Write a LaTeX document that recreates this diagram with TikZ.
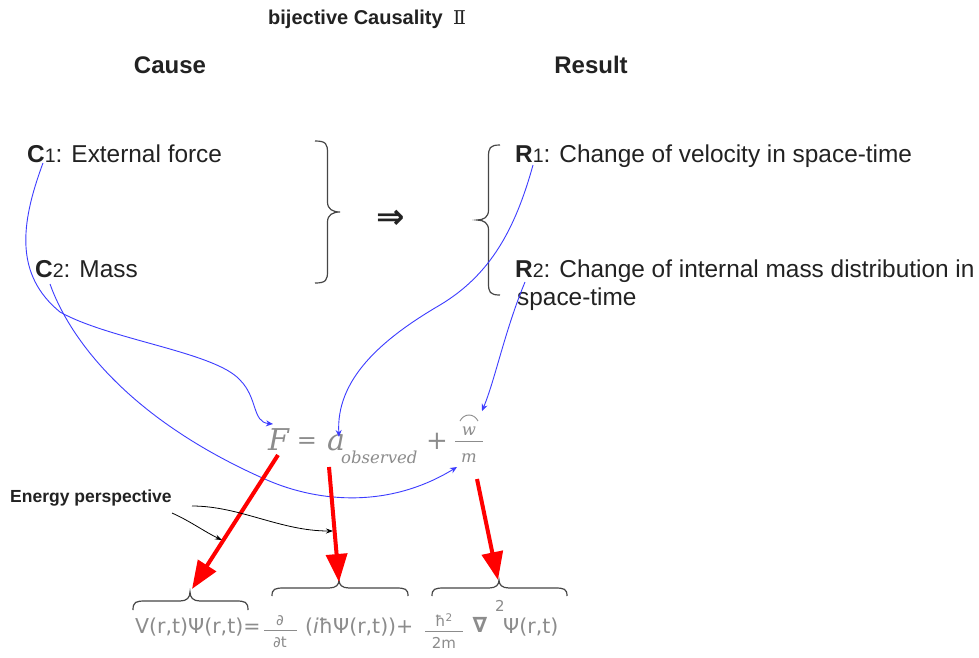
\documentclass[tikz,border=0pt]{standalone}
\usepackage{fontspec}
\setmainfont{Liberation Sans}
\newfontfamily\djv{DejaVu Sans}
\newfontfamily\djs{DejaVu Serif}
\usetikzlibrary{arrows.meta}
\definecolor{txtc}{RGB}{34,34,34}
\definecolor{eqgray}{RGB}{140,140,140}
\definecolor{bluec}{RGB}{60,60,255}
\definecolor{bracec}{RGB}{70,70,70}
\newcommand{\lbl}[2]{\textbf{#1}{\fontsize{19.5}{22}\selectfont #2}}
% vertical brace: x of ends, y top, y mid, y bottom, signed amplitude
\newcommand{\myvbrace}[5]{%
  \draw[bracestyle] (#1,#2) .. controls (#1+#5*0.45,#2) and (#1+#5*0.5,#2+3) .. (#1+#5*0.5,#2+12)
    -- (#1+#5*0.5,#3-10) .. controls (#1+#5*0.5,#3-3) and (#1+#5*0.7,#3) .. (#1+#5,#3)
    .. controls (#1+#5*0.7,#3) and (#1+#5*0.5,#3+3) .. (#1+#5*0.5,#3+10)
    -- (#1+#5*0.5,#4-12) .. controls (#1+#5*0.5,#4-3) and (#1+#5*0.45,#4) .. (#1,#4);}
% horizontal brace: x left, x mid, x right, y of ends, signed amplitude
\newcommand{\myhbrace}[5]{%
  \draw[bracestyle] (#1,#4) .. controls (#1,#4+#5*0.45) and (#1+3,#4+#5*0.5) .. (#1+12,#4+#5*0.5)
    -- (#2-10,#4+#5*0.5) .. controls (#2-3,#4+#5*0.5) and (#2,#4+#5*0.7) .. (#2,#4+#5)
    .. controls (#2,#4+#5*0.7) and (#2+3,#4+#5*0.5) .. (#2+10,#4+#5*0.5)
    -- (#3-12,#4+#5*0.5) .. controls (#3-3,#4+#5*0.5) and (#3,#4+#5*0.45) .. (#3,#4);}
\tikzset{
  txt/.style={inner sep=0pt, anchor=base west, text=txtc, font=\fontsize{24.4}{28}\selectfont},
  headtxt/.style={inner sep=0pt, anchor=base, text=txtc, font=\bfseries\fontsize{24}{28}\selectfont},
  eqn/.style={inner sep=0pt, text=eqgray, font=\djs\itshape\fontsize{30}{34}\selectfont},
  eqsmall/.style={inner sep=0pt, text=eqgray, font=\djs\itshape\fontsize{16.5}{20}\selectfont},
  beq/.style={inner sep=0pt, text=eqgray, font=\djv\fontsize{20.5}{24}\selectfont},
  bsmall/.style={inner sep=0pt, text=eqgray, font=\djv\fontsize{15}{17}\selectfont},
  bracestyle/.style={draw=bracec, line width=1.2pt},
  bluearr/.style={draw=bluec, line width=0.9pt, -{Stealth[length=7pt,width=6pt]}},
  redarr/.style={draw=red, line width=4pt, -{Triangle[length=28pt,width=21pt]}},
  blkarr/.style={draw=black, line width=0.8pt, -{Stealth[length=7pt,width=5pt]}},
  fracbar/.style={draw=eqgray, line width=0.9pt}
}
\begin{document}
\begin{tikzpicture}[x=1pt,y=-1pt]
\useasboundingbox (0,0) rectangle (979,657);
\fill[white] (0,0) rectangle (979,657);

% headings
\node[inner sep=0pt, anchor=base west, text=txtc, font=\bfseries\fontsize{20}{22}\selectfont] (title) at (268,24) {bijective Causality};
\node[inner sep=0pt, anchor=base west, text=txtc, font=\djs\fontsize{19}{22}\selectfont] (two) at (453,24) {Ⅱ};
\node[headtxt] (cause) at (170,73) {Cause};
\node[headtxt] (result) at (591,73) {Result};

% causes and results
\node[txt] (c1) at (27,162) {\lbl{C}{1}: External force};
\node[txt] (c2) at (35,277) {\lbl{C}{2}: Mass};
\node[txt] (r1) at (515,162) {\lbl{R}{1}: Change of velocity in space-time};
\node[txt] (r2) at (515,277) {\lbl{R}{2}: Change of internal mass distribution in};
\node[txt] (r2b) at (517,305) {space-time};

% braces and implication
\myvbrace{315}{141}{212}{283}{25}
\myvbrace{500}{145}{220}{295}{-23}
\node[inner sep=0pt, text=txtc, font=\djv\bfseries\fontsize{34}{36}\selectfont] (impl) at (391,219) {⇒};

% upper equation
\node[eqn, anchor=base west] (F) at (268,450) {F};
\node[eqn, anchor=base, font=\djs\fontsize{24}{28}\selectfont] (eq) at (307,448) {=};
\node[eqn, anchor=base west] (a) at (327,450) {a};
\node[eqsmall, anchor=base west] (obs) at (341,463) {observed};
\node[eqn, anchor=base, font=\djs\fontsize{26}{30}\selectfont] (plus) at (437,449) {+};
\node[eqsmall, anchor=base] (w) at (469,435) {w};
\node[eqsmall, anchor=base] (m) at (469,462) {m};
\draw[fracbar] (455,441) -- (483,441);
\draw[draw=eqgray, line width=0.9pt] (460,421) .. controls (464,413) and (474,413) .. (478,421);

% lower equation
\node[beq, anchor=base west] (lhs) at (135,633) {V(r,t)Ψ(r,t)=};
\node[bsmall] (d1) at (280,621) {∂};
\draw[fracbar] (264,630) -- (297,630);
\node[bsmall] (d2) at (280,642) {∂t};
\node[beq, anchor=base west] (mid) at (305,633) {(\textit{i}ħΨ(r,t))+};
\node[bsmall] (h2) at (444,620) {ħ\textsuperscript{2}};
\draw[fracbar] (425,631) -- (463,631);
\node[bsmall] (twom) at (444,643) {2m};
\node[beq, font=\djv\bfseries\fontsize{21}{24}\selectfont] (nabla) at (480,625) {∇};
\node[beq, font=\djv\fontsize{15}{18}\selectfont] (sq) at (500,606) {2};
\node[beq, anchor=base west] (psi) at (503,633) {Ψ(r,t)};

% braces above lower equation
\myhbrace{133}{190}{248}{610}{-18}
\myhbrace{272}{339}{408}{596}{-16}
\myhbrace{432}{499}{567}{596}{-16}

% coordinates
\coordinate (c1s) at (43,163);
\coordinate (c2s) at (50,284);
\coordinate (r1s) at (533,165);
\coordinate (r2s) at (525,282);
\coordinate (Fin) at (273,424);
\coordinate (ain) at (339,437);
\coordinate (wmin) at (482,411);
\coordinate (wmin2) at (457,467);
\coordinate (Fout) at (278,455);
\coordinate (aout) at (329,467);
\coordinate (wmout) at (477,479);
\coordinate (b1tip) at (192,589);
\coordinate (b2tip) at (339,582);
\coordinate (b3tip) at (498,580);

% blue connectors
\draw[bluearr] (c1s) .. controls (20,225) and (15,275) .. (60,312)
  .. controls (110,340) and (215,352) .. (240,380)
  .. controls (258,398) and (252,422) .. (Fin);
\draw[bluearr] (c2s) .. controls (70,340) and (130,420) .. (267,480)
  .. controls (320,503) and (390,508) .. (wmin2);
\draw[bluearr] (r1s) .. controls (515,230) and (490,275) .. (440,305)
  .. controls (380,340) and (336,380) .. (ain);
\draw[bluearr] (r2s) .. controls (505,330) and (495,380) .. (wmin);

% red arrows
\draw[redarr] (Fout) -- (b1tip);
\draw[redarr] (aout) -- (b2tip);
\draw[redarr] (wmout) -- (b3tip);

% energy perspective
\node[inner sep=0pt, anchor=base west, text=txtc, font=\bfseries\fontsize{17.5}{20}\selectfont] (energy) at (10,502) {Energy perspective};
\coordinate (e1s) at (172,513);
\coordinate (e1e) at (222,540);
\coordinate (e2s) at (192,506);
\coordinate (e2e) at (333,531);
\draw[blkarr] (e1s) .. controls (190,521) and (205,532) .. (e1e);
\draw[blkarr] (e2s) .. controls (240,506) and (280,531) .. (e2e);
\end{tikzpicture}
\end{document}
